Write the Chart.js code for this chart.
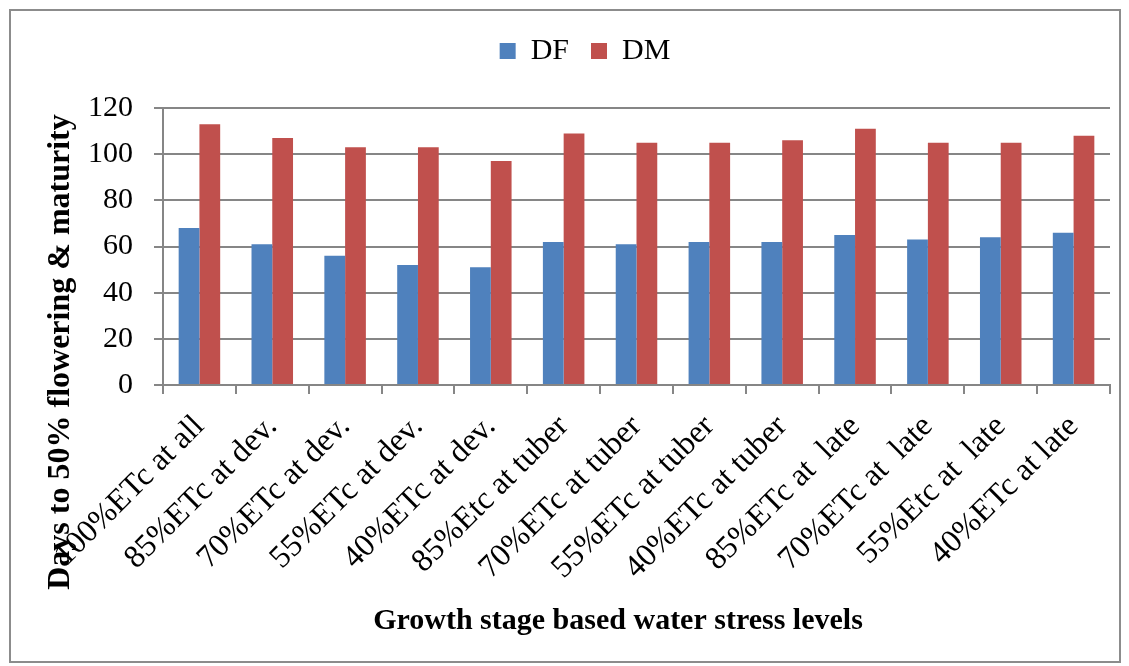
<!DOCTYPE html>
<html lang="en">
<head>
    <meta charset="UTF-8">
    <title>Days to 50% flowering & maturity</title>
    <script src="https://cdn.jsdelivr.net/npm/chart.js@4.4.0/dist/chart.umd.min.js"></script>
    <style>
        body {
            margin: 0;
            background-color: white;
        }
        .frame {
            position: absolute;
            left: 9px;
            top: 9px;
            width: 1108px;
            height: 650px;
            border: 2px solid #8c8c8c;
        }
        .chartbox {
            position: absolute;
            left: 0;
            top: 0;
            width: 1129px;
            height: 666px;
        }
    </style>
</head>
<body>
    <div class="frame"></div>
    <div class="chartbox"><canvas id="barChart"></canvas></div>

    <script>
        const categories = [
            "100%ETc at all", "85%ETc at dev.", "70%ETc at dev.", "55%ETc at dev.",
            "40%ETc at dev.", "85%Etc at tuber", "70%ETc at tuber", "55%ETc at tuber",
            "40%ETc at tuber", "85%ETc at  late", "70%ETc at  late", "55%Etc at  late",
            "40%ETc at late"
        ];
        const dfValues = [68, 61, 56, 52, 51, 62, 61, 62, 62, 65, 63, 64, 66];
        const dmValues = [113, 107, 103, 103, 97, 109, 105, 105, 106, 111, 105, 105, 108];
        const yTicks = [0, 20, 40, 60, 80, 100, 120];

        const serif = '"Liberation Serif", "Times New Roman", serif';
        Chart.defaults.color = "black";
        Chart.defaults.font.family = serif;

        // both axis titles sit off-centre in the original, so draw them by hand
        const axisTitles = {
            id: "axisTitles",
            afterDraw(chart) {
                const ctx = chart.ctx;
                ctx.save();
                ctx.fillStyle = "black";
                ctx.textAlign = "center";
                ctx.textBaseline = "middle";
                ctx.font = "bold 30px " + serif;
                ctx.fillText("Growth stage based water stress levels", 618, 621);
                ctx.font = "bold 32px " + serif;
                ctx.translate(61, 352);
                ctx.rotate(-Math.PI / 2);
                ctx.fillText("Days to 50% flowering & maturity", 0, 0);
                ctx.restore();
            }
        };

        const bar = document.getElementById("barChart").getContext("2d");
        const barChart = new Chart(bar, {
            type: "bar",
            data: {
                labels: categories,
                datasets: [{
                    label: "DF",
                    data: dfValues,
                    backgroundColor: "#4F81BD"
                }, {
                    label: "DM",
                    data: dmValues,
                    backgroundColor: "#C0504D"
                }]
            },
            options: {
                animation: false,
                responsive: true,
                maintainAspectRatio: false,
                categoryPercentage: 0.57,
                barPercentage: 1.0,
                layout: {
                    padding: { left: 60, right: 19, top: 14, bottom: 0 }
                },
                plugins: {
                    legend: {
                        position: "top",
                        labels: {
                            font: { size: 30 },
                            boxWidth: 16,
                            boxHeight: 16,
                            padding: 22
                        }
                    },
                    tooltip: { enabled: false }
                },
                scales: {
                    // empty strip between legend and plot
                    gap: {
                        type: "category",
                        position: "top",
                        afterFit: s => { s.height = 32; },
                        grid: { display: false },
                        ticks: { display: false },
                        border: { display: false }
                    },
                    x: {
                        afterFit: s => { s.height = 281; },
                        border: { color: "#868686", width: 2 },
                        grid: {
                            drawOnChartArea: false,
                            color: "#868686",
                            lineWidth: 2,
                            tickLength: 9
                        },
                        ticks: {
                            font: { size: 32 },
                            maxRotation: 45,
                            minRotation: 45,
                            padding: 14
                        }
                    },
                    y: {
                        min: 0,
                        max: 120,
                        afterFit: s => { s.width = 103; },
                        afterBuildTicks: s => { s.ticks = yTicks.map(v => ({ value: v })); },
                        border: { color: "#868686", width: 2 },
                        grid: {
                            color: "#868686",
                            lineWidth: 2,
                            tickLength: 9
                        },
                        ticks: {
                            font: { size: 30 },
                            padding: 21
                        }
                    }
                }
            },
            plugins: [axisTitles]
        });
    </script>
</body>
</html>
